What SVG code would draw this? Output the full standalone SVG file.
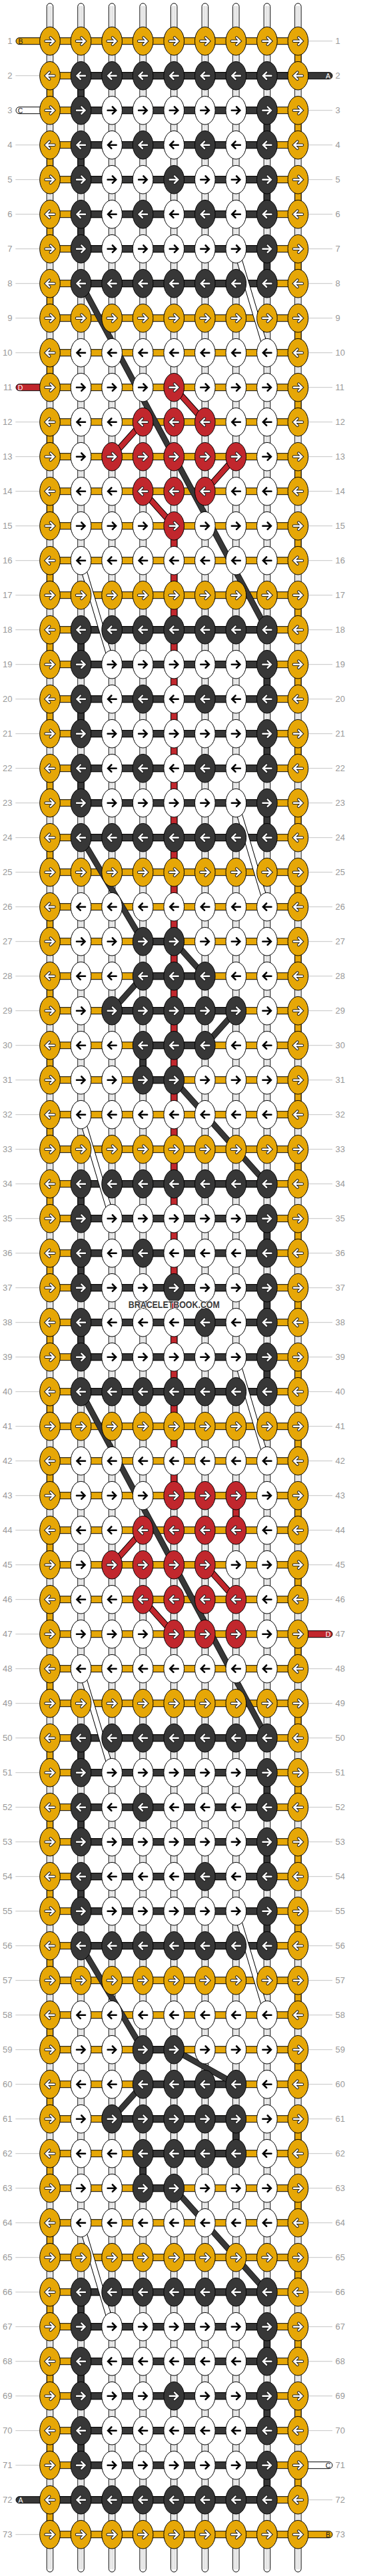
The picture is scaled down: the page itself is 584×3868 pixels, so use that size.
<svg xmlns="http://www.w3.org/2000/svg" xmlns:xlink="http://www.w3.org/1999/xlink" width="584" height="3868" viewBox="0 0 584 3868">
<style>
.g{stroke:#c4c4c4;stroke-width:1;fill:none}
text{font-family:"Liberation Sans",Arial,sans-serif}
.L{font-size:13px;fill:#999;text-anchor:end}
.R{font-size:13px;fill:#999}
.y{fill:#E6A707}.k{fill:#373737}.w{fill:#fff}.r{fill:#C1272D}
.s{stroke:#000;stroke-width:1}
.o{fill:none;stroke:#1e1e1e;stroke-width:4.4;stroke-linecap:round}
.wa{fill:none;stroke:#fff;stroke-width:2.4;stroke-linecap:round}
.ba{fill:none;stroke:#000;stroke-width:2.6;stroke-linecap:round}
.tl{stroke:#9a9a9a;stroke-width:0.7;fill:none}
.sl{font-size:10.5px;text-anchor:middle}
</style>
<defs>
<ellipse id="e" rx="15.3" ry="21.3" stroke="#000" stroke-width="1"/>
<path id="ar" d="M-6.5,0H5.5M0.8,-5.2L6,0L0.8,5.2"/>
<path id="al" d="M6.5,0H-5.5M-0.8,-5.2L-6,0L-0.8,5.2"/>
<g id="Yr"><use href="#e" class="y"/><use href="#ar" class="o"/><use href="#ar" class="wa"/></g>
<g id="Yl"><use href="#e" class="y"/><use href="#al" class="o"/><use href="#al" class="wa"/></g>
<g id="Kr"><use href="#e" class="k"/><use href="#ar" class="o"/><use href="#ar" class="wa"/></g>
<g id="Kl"><use href="#e" class="k"/><use href="#al" class="o"/><use href="#al" class="wa"/></g>
<g id="Rr"><use href="#e" class="r"/><use href="#ar" class="o"/><use href="#ar" class="wa"/></g>
<g id="Rl"><use href="#e" class="r"/><use href="#al" class="o"/><use href="#al" class="wa"/></g>
<g id="Wr"><use href="#e" class="w"/><use href="#ar" class="ba"/></g>
<g id="Wl"><use href="#e" class="w"/><use href="#al" class="ba"/></g>
</defs>
<rect width="584" height="3868" fill="#fff"/>
<g id="connectors">
<g id="tubes" class="w s">
<rect x="70.3" y="5" width="9.4" height="3857" rx="4.7"/>
<rect x="116.8" y="5" width="9.4" height="3857" rx="4.7"/>
<rect x="163.4" y="5" width="9.4" height="3857" rx="4.7"/>
<rect x="209.9" y="5" width="9.4" height="3857" rx="4.7"/>
<rect x="256.5" y="5" width="9.4" height="3857" rx="4.7"/>
<rect x="303.1" y="5" width="9.4" height="3857" rx="4.7"/>
<rect x="349.6" y="5" width="9.4" height="3857" rx="4.7"/>
<rect x="396.2" y="5" width="9.4" height="3857" rx="4.7"/>
<rect x="442.7" y="5" width="9.4" height="3857" rx="4.7"/>
</g>
<path class="tl" d="M73.5,9V3858M76.5,9V3858M120,9V3858M123,9V3858M166.6,9V3858M169.6,9V3858M213.1,9V3858M216.1,9V3858M259.7,9V3858M262.7,9V3858M306.3,9V3858M309.3,9V3858M352.8,9V3858M355.8,9V3858M399.4,9V3858M402.4,9V3858M445.9,9V3858M448.9,9V3858"/>
<g id="vertical" class="s">
<path class="y" d="M70.3,131.7h9.4v16h-9.4zm0,104h9.4v16h-9.4zm0,104h9.4v16h-9.4zm0,104h9.4v16h-9.4zm0,104h9.4v16h-9.4zm0,104h9.4v16h-9.4zm0,104h9.4v16h-9.4zm0,104h9.4v16h-9.4z
m0,104h9.4v16h-9.4zm0,104h9.4v16h-9.4zm0,104h9.4v16h-9.4zm0,104h9.4v16h-9.4zm0,104h9.4v16h-9.4zm0,104h9.4v16h-9.4zm0,104h9.4v16h-9.4z
m0,104h9.4v16h-9.4zm0,104h9.4v16h-9.4zm0,104h9.4v16h-9.4zm0,104h9.4v16h-9.4zm0,104h9.4v16h-9.4zm0,104h9.4v16h-9.4zm0,104h9.4v16h-9.4z
m0,104h9.4v16h-9.4zm0,104h9.4v16h-9.4zm0,104h9.4v16h-9.4zm0,104h9.4v16h-9.4zm0,104h9.4v16h-9.4zm0,104h9.4v16h-9.4zm0,104h9.4v16h-9.4z
m0,104h9.4v16h-9.4zm0,104h9.4v16h-9.4zm0,104h9.4v16h-9.4zm0,104h9.4v16h-9.4zm0,104h9.4v16h-9.4zm0,104h9.4v16h-9.4zm0,104h9.4v16h-9.4z"/>
<path class="y" d="M442.7,79.7h9.4v16h-9.4zm0,104h9.4v16h-9.4zm0,104h9.4v16h-9.4zm0,104h9.4v16h-9.4zm0,104h9.4v16h-9.4zm0,104h9.4v16h-9.4zm0,104h9.4v16h-9.4zm0,104h9.4v16h-9.4z
m0,104h9.4v16h-9.4zm0,104h9.4v16h-9.4zm0,104h9.4v16h-9.4zm0,104h9.4v16h-9.4zm0,104h9.4v16h-9.4zm0,104h9.4v16h-9.4zm0,104h9.4v16h-9.4z
m0,104h9.4v16h-9.4zm0,104h9.4v16h-9.4zm0,104h9.4v16h-9.4zm0,104h9.4v16h-9.4zm0,104h9.4v16h-9.4zm0,104h9.4v16h-9.4zm0,104h9.4v16h-9.4z
m0,104h9.4v16h-9.4zm0,104h9.4v16h-9.4zm0,104h9.4v16h-9.4zm0,104h9.4v16h-9.4zm0,104h9.4v16h-9.4zm0,104h9.4v16h-9.4zm0,104h9.4v16h-9.4z
m0,104h9.4v16h-9.4zm0,104h9.4v16h-9.4zm0,104h9.4v16h-9.4zm0,104h9.4v16h-9.4zm0,104h9.4v16h-9.4zm0,104h9.4v16h-9.4zm0,104h9.4v16h-9.4z"/>
<path class="k" d="M116.8,131.7h9.4v16h-9.4zm0,104h9.4v16h-9.4zm0,104h9.4v16h-9.4z
M116.8,963.7h9.4v16h-9.4zm0,104h9.4v16h-9.4zm0,104h9.4v16h-9.4z
M116.8,1795.7h9.4v16h-9.4zm0,104h9.4v16h-9.4zm0,104h9.4v16h-9.4z
M116.8,2627.7h9.4v16h-9.4zm0,104h9.4v16h-9.4zm0,104h9.4v16h-9.4z
M116.8,3459.7h9.4v16h-9.4zm0,104h9.4v16h-9.4zm0,104h9.4v16h-9.4z
M396.2,183.7h9.4v16h-9.4zm0,104h9.4v16h-9.4zm0,104h9.4v16h-9.4z
M396.2,1015.7h9.4v16h-9.4zm0,104h9.4v16h-9.4zm0,104h9.4v16h-9.4z
M396.2,1847.7h9.4v16h-9.4zm0,104h9.4v16h-9.4zm0,104h9.4v16h-9.4z
M396.2,2679.7h9.4v16h-9.4zm0,104h9.4v16h-9.4zm0,104h9.4v16h-9.4z
M396.2,3511.7h9.4v16h-9.4zm0,104h9.4v16h-9.4zm0,104h9.4v16h-9.4z
M209.9,1587.7h9.4v16h-9.4zM209.9,3251.7h9.4v16h-9.4zM349.6,3199.7h9.4v16h-9.4z"/>
<rect class="r" x="256.5" y="807.7" width="9.4" height="1420"/>
<path class="r" d="M349.6,2263.7h9.4v16h-9.4z"/>
</g>
<g id="horizontal" class="s">
<path class="y" d="M75,56.7h372.4v10h-372.4z
m0,52h372.4v10h-372.4zm0,52h372.4v10h-372.4zm0,52h372.4v10h-372.4zm0,52h372.4v10h-372.4zm0,52h372.4v10h-372.4zm0,52h372.4v10h-372.4zm0,52h372.4v10h-372.4zm0,52h372.4v10h-372.4z
m0,52h372.4v10h-372.4zm0,52h372.4v10h-372.4zm0,52h372.4v10h-372.4zm0,52h372.4v10h-372.4zm0,52h372.4v10h-372.4zm0,52h372.4v10h-372.4zm0,52h372.4v10h-372.4zm0,52h372.4v10h-372.4z
m0,52h372.4v10h-372.4zm0,52h372.4v10h-372.4zm0,52h372.4v10h-372.4zm0,52h372.4v10h-372.4zm0,52h372.4v10h-372.4zm0,52h372.4v10h-372.4zm0,52h372.4v10h-372.4zm0,52h372.4v10h-372.4z
m0,52h372.4v10h-372.4zm0,52h372.4v10h-372.4zm0,52h372.4v10h-372.4zm0,52h372.4v10h-372.4zm0,52h372.4v10h-372.4zm0,52h372.4v10h-372.4zm0,52h372.4v10h-372.4zm0,52h372.4v10h-372.4z
m0,52h372.4v10h-372.4zm0,52h372.4v10h-372.4zm0,52h372.4v10h-372.4zm0,52h372.4v10h-372.4zm0,52h372.4v10h-372.4zm0,52h372.4v10h-372.4zm0,52h372.4v10h-372.4zm0,52h372.4v10h-372.4z
m0,52h372.4v10h-372.4zm0,52h372.4v10h-372.4zm0,52h372.4v10h-372.4zm0,52h372.4v10h-372.4zm0,52h372.4v10h-372.4zm0,52h372.4v10h-372.4zm0,52h372.4v10h-372.4zm0,52h372.4v10h-372.4z
m0,52h372.4v10h-372.4zm0,52h372.4v10h-372.4zm0,52h372.4v10h-372.4zm0,52h372.4v10h-372.4zm0,52h372.4v10h-372.4zm0,52h372.4v10h-372.4zm0,52h372.4v10h-372.4zm0,52h372.4v10h-372.4z
m0,52h372.4v10h-372.4zm0,52h372.4v10h-372.4zm0,52h372.4v10h-372.4zm0,52h372.4v10h-372.4zm0,52h372.4v10h-372.4zm0,52h372.4v10h-372.4zm0,52h372.4v10h-372.4zm0,52h372.4v10h-372.4z
m0,52h372.4v10h-372.4zm0,52h372.4v10h-372.4zm0,52h372.4v10h-372.4zm0,52h372.4v10h-372.4zm0,52h372.4v10h-372.4zm0,52h372.4v10h-372.4zm0,52h372.4v10h-372.4zm0,52h372.4v10h-372.4z"/>
<path class="k" d="M121.5,108.7h325.9v10h-325.9z
M121.5,160.7h279.4v10h-279.4zm0,52h279.4v10h-279.4zm0,52h279.4v10h-279.4zm0,52h279.4v10h-279.4zm0,52h279.4v10h-279.4zm0,52h279.4v10h-279.4z
M121.5,940.7h279.4v10h-279.4zm0,52h279.4v10h-279.4zm0,52h279.4v10h-279.4zm0,52h279.4v10h-279.4zm0,52h279.4v10h-279.4zm0,52h279.4v10h-279.4zm0,52h279.4v10h-279.4z
M121.5,1772.7h279.4v10h-279.4zm0,52h279.4v10h-279.4zm0,52h279.4v10h-279.4zm0,52h279.4v10h-279.4zm0,52h279.4v10h-279.4zm0,52h279.4v10h-279.4zm0,52h279.4v10h-279.4z
M121.5,2604.7h279.4v10h-279.4zm0,52h279.4v10h-279.4zm0,52h279.4v10h-279.4zm0,52h279.4v10h-279.4zm0,52h279.4v10h-279.4zm0,52h279.4v10h-279.4zm0,52h279.4v10h-279.4z
M121.5,3436.7h279.4v10h-279.4zm0,52h279.4v10h-279.4zm0,52h279.4v10h-279.4zm0,52h279.4v10h-279.4zm0,52h279.4v10h-279.4zm0,52h279.4v10h-279.4z
M75,3748.7h325.9v10h-325.9z
M214.6,1408.7h46.6v10h-46.6zM214.6,1460.7h93.2v10h-93.2zM168.1,1512.7h186.2v10h-186.2zM214.6,1564.7h93.2v10h-93.2zM214.6,1616.7h46.6v10h-46.6z
M214.6,3072.7h46.6v10h-46.6zM214.6,3124.7h139.7v10h-139.7zM168.1,3176.7h186.2v10h-186.2zM214.6,3228.7h139.7v10h-139.7zM214.6,3280.7h46.6v10h-46.6z"/>
</g>
<g id="diagonals" fill="none">
<path stroke="#000" stroke-width="9" d="M354.3,373.7L400.9,529.7M121.5,841.7L168.1,997.7M354.3,1205.7L400.9,1361.7M121.5,1673.7L168.1,1829.7M354.3,2037.7L400.9,2193.7M121.5,2505.7L168.1,2661.7M354.3,2869.7L400.9,3025.7M121.5,3337.7L168.1,3493.7"/>
<path stroke="#fff" stroke-width="7" d="M354.3,373.7L400.9,529.7M121.5,841.7L168.1,997.7M354.3,1205.7L400.9,1361.7M121.5,1673.7L168.1,1829.7M354.3,2037.7L400.9,2193.7M121.5,2505.7L168.1,2661.7M354.3,2869.7L400.9,3025.7M121.5,3337.7L168.1,3493.7"/>
<path stroke="#111" stroke-width="9" d="M121.5,425.7L400.9,945.7M121.5,1257.7L214.6,1413.7M261.2,1413.7L307.8,1465.7M214.6,1465.7L168.1,1517.7M354.3,1517.7L307.8,1569.7M261.2,1621.7L400.9,1777.7M121.5,2089.7L400.9,2609.7M121.5,2921.7L214.6,3077.7M261.2,3077.7L354.3,3129.7M214.6,3129.7L168.1,3181.7M261.2,3285.7L400.9,3441.7"/>
<path stroke="#373737" stroke-width="7.4" d="M121.5,425.7L400.9,945.7M121.5,1257.7L214.6,1413.7M261.2,1413.7L307.8,1465.7M214.6,1465.7L168.1,1517.7M354.3,1517.7L307.8,1569.7M261.2,1621.7L400.9,1777.7M121.5,2089.7L400.9,2609.7M121.5,2921.7L214.6,3077.7M261.2,3077.7L354.3,3129.7M214.6,3129.7L168.1,3181.7M261.2,3285.7L400.9,3441.7"/>
<path stroke="#000" stroke-width="9.4" d="M261.2,581.7L307.8,633.7M214.6,633.7L168.1,685.7M354.3,685.7L307.8,737.7M214.6,737.7L261.2,789.7M214.6,2297.7L168.1,2349.7M307.8,2349.7L354.3,2401.7M214.6,2401.7L261.2,2453.7"/>
<path stroke="#C1272D" stroke-width="7.4" d="M261.2,581.7L307.8,633.7M214.6,633.7L168.1,685.7M354.3,685.7L307.8,737.7M214.6,737.7L261.2,789.7M214.6,2297.7L168.1,2349.7M307.8,2349.7L354.3,2401.7M214.6,2401.7L261.2,2453.7"/>
</g>
<g id="ends" class="s">
<rect class="y" x="24" y="56.7" width="60" height="10" rx="5"/>
<rect class="k" x="440" y="108.7" width="59" height="10" rx="5"/>
<rect class="w" x="24" y="160.7" width="60" height="10" rx="5"/>
<rect class="r" x="24" y="576.7" width="60" height="10" rx="5"/>
<rect class="r" x="440" y="2448.7" width="59" height="10" rx="5"/>
<rect class="w" x="440" y="3696.7" width="59" height="10" rx="5"/>
<rect class="k" x="24" y="3748.7" width="60" height="10" rx="5"/>
<rect class="y" x="440" y="3800.7" width="59" height="10" rx="5"/>
</g>
<g id="endlabels" class="sl">
<text x="31" y="65.5" fill="#222">B</text>
<text x="492.5" y="117.5" fill="#fff">A</text>
<text x="30.5" y="169.5" fill="#222">C</text>
<text x="30.5" y="585.5" fill="#fff">D</text>
<text x="492.5" y="2457.5" fill="#fff">D</text>
<text x="492.5" y="3705.5" fill="#222">C</text>
<text x="31" y="3757.5" fill="#fff">A</text>
<text x="492.5" y="3809.5" fill="#222">B</text>
</g>
</g>
<g id="knots">
<g id="row1" transform="translate(0,61.7)"><path class="g" d="M463,0H499"/><text class="L" x="18.5" y="4.5">1</text><text class="R" x="503.5" y="4.5">1</text><use id="k1-1" href="#Yr" x="75"/><use id="k1-2" href="#Yr" x="121.5"/><use id="k1-3" href="#Yr" x="168.1"/><use id="k1-4" href="#Yr" x="214.6"/><use id="k1-5" href="#Yr" x="261.2"/><use id="k1-6" href="#Yr" x="307.8"/><use id="k1-7" href="#Yr" x="354.3"/><use id="k1-8" href="#Yr" x="400.9"/><use id="k1-9" href="#Yr" x="447.4"/></g>
<g id="row2" transform="translate(0,113.7)"><path class="g" d="M23.3,0H60"/><text class="L" x="18.5" y="4.5">2</text><text class="R" x="503.5" y="4.5">2</text><use id="k2-1" href="#Yl" x="75"/><use id="k2-2" href="#Kl" x="121.5"/><use id="k2-3" href="#Kl" x="168.1"/><use id="k2-4" href="#Kl" x="214.6"/><use id="k2-5" href="#Kl" x="261.2"/><use id="k2-6" href="#Kl" x="307.8"/><use id="k2-7" href="#Kl" x="354.3"/><use id="k2-8" href="#Kl" x="400.9"/><use id="k2-9" href="#Yl" x="447.4"/></g>
<g id="row3" transform="translate(0,165.7)"><path class="g" d="M463,0H499"/><text class="L" x="18.5" y="4.5">3</text><text class="R" x="503.5" y="4.5">3</text><use id="k3-1" href="#Yr" x="75"/><use id="k3-2" href="#Kr" x="121.5"/><use id="k3-3" href="#Wr" x="168.1"/><use id="k3-4" href="#Wr" x="214.6"/><use id="k3-5" href="#Wr" x="261.2"/><use id="k3-6" href="#Wr" x="307.8"/><use id="k3-7" href="#Wr" x="354.3"/><use id="k3-8" href="#Kr" x="400.9"/><use id="k3-9" href="#Yr" x="447.4"/></g>
<g id="row4" transform="translate(0,217.7)"><path class="g" d="M23.3,0H60M463,0H499"/><text class="L" x="18.5" y="4.5">4</text><text class="R" x="503.5" y="4.5">4</text><use id="k4-1" href="#Yl" x="75"/><use id="k4-2" href="#Kl" x="121.5"/><use id="k4-3" href="#Wl" x="168.1"/><use id="k4-4" href="#Kl" x="214.6"/><use id="k4-5" href="#Wl" x="261.2"/><use id="k4-6" href="#Kl" x="307.8"/><use id="k4-7" href="#Wl" x="354.3"/><use id="k4-8" href="#Kl" x="400.9"/><use id="k4-9" href="#Yl" x="447.4"/></g>
<g id="row5" transform="translate(0,269.7)"><path class="g" d="M23.3,0H60M463,0H499"/><text class="L" x="18.5" y="4.5">5</text><text class="R" x="503.5" y="4.5">5</text><use id="k5-1" href="#Yr" x="75"/><use id="k5-2" href="#Kr" x="121.5"/><use id="k5-3" href="#Wr" x="168.1"/><use id="k5-4" href="#Wr" x="214.6"/><use id="k5-5" href="#Kr" x="261.2"/><use id="k5-6" href="#Wr" x="307.8"/><use id="k5-7" href="#Wr" x="354.3"/><use id="k5-8" href="#Kr" x="400.9"/><use id="k5-9" href="#Yr" x="447.4"/></g>
<g id="row6" transform="translate(0,321.7)"><path class="g" d="M23.3,0H60M463,0H499"/><text class="L" x="18.5" y="4.5">6</text><text class="R" x="503.5" y="4.5">6</text><use id="k6-1" href="#Yl" x="75"/><use id="k6-2" href="#Kl" x="121.5"/><use id="k6-3" href="#Wl" x="168.1"/><use id="k6-4" href="#Kl" x="214.6"/><use id="k6-5" href="#Wl" x="261.2"/><use id="k6-6" href="#Kl" x="307.8"/><use id="k6-7" href="#Wl" x="354.3"/><use id="k6-8" href="#Kl" x="400.9"/><use id="k6-9" href="#Yl" x="447.4"/></g>
<g id="row7" transform="translate(0,373.7)"><path class="g" d="M23.3,0H60M463,0H499"/><text class="L" x="18.5" y="4.5">7</text><text class="R" x="503.5" y="4.5">7</text><use id="k7-1" href="#Yr" x="75"/><use id="k7-2" href="#Kr" x="121.5"/><use id="k7-3" href="#Wr" x="168.1"/><use id="k7-4" href="#Wr" x="214.6"/><use id="k7-5" href="#Wr" x="261.2"/><use id="k7-6" href="#Wr" x="307.8"/><use id="k7-7" href="#Wr" x="354.3"/><use id="k7-8" href="#Kr" x="400.9"/><use id="k7-9" href="#Yr" x="447.4"/></g>
<g id="row8" transform="translate(0,425.7)"><path class="g" d="M23.3,0H60M463,0H499"/><text class="L" x="18.5" y="4.5">8</text><text class="R" x="503.5" y="4.5">8</text><use id="k8-1" href="#Yl" x="75"/><use id="k8-2" href="#Kl" x="121.5"/><use id="k8-3" href="#Kl" x="168.1"/><use id="k8-4" href="#Kl" x="214.6"/><use id="k8-5" href="#Kl" x="261.2"/><use id="k8-6" href="#Kl" x="307.8"/><use id="k8-7" href="#Kl" x="354.3"/><use id="k8-8" href="#Kl" x="400.9"/><use id="k8-9" href="#Yl" x="447.4"/></g>
<g id="row9" transform="translate(0,477.7)"><path class="g" d="M23.3,0H60M463,0H499"/><text class="L" x="18.5" y="4.5">9</text><text class="R" x="503.5" y="4.5">9</text><use id="k9-1" href="#Yr" x="75"/><use id="k9-2" href="#Yr" x="121.5"/><use id="k9-3" href="#Yr" x="168.1"/><use id="k9-4" href="#Yr" x="214.6"/><use id="k9-5" href="#Yr" x="261.2"/><use id="k9-6" href="#Yr" x="307.8"/><use id="k9-7" href="#Yr" x="354.3"/><use id="k9-8" href="#Yr" x="400.9"/><use id="k9-9" href="#Yr" x="447.4"/></g>
<g id="row10" transform="translate(0,529.7)"><path class="g" d="M23.3,0H60M463,0H499"/><text class="L" x="18.5" y="4.5">10</text><text class="R" x="503.5" y="4.5">10</text><use id="k10-1" href="#Yl" x="75"/><use id="k10-2" href="#Wl" x="121.5"/><use id="k10-3" href="#Wl" x="168.1"/><use id="k10-4" href="#Wl" x="214.6"/><use id="k10-5" href="#Wl" x="261.2"/><use id="k10-6" href="#Wl" x="307.8"/><use id="k10-7" href="#Wl" x="354.3"/><use id="k10-8" href="#Wl" x="400.9"/><use id="k10-9" href="#Yl" x="447.4"/></g>
<g id="row11" transform="translate(0,581.7)"><path class="g" d="M463,0H499"/><text class="L" x="18.5" y="4.5">11</text><text class="R" x="503.5" y="4.5">11</text><use id="k11-1" href="#Yr" x="75"/><use id="k11-2" href="#Wr" x="121.5"/><use id="k11-3" href="#Wr" x="168.1"/><use id="k11-4" href="#Wr" x="214.6"/><use id="k11-5" href="#Rr" x="261.2"/><use id="k11-6" href="#Wr" x="307.8"/><use id="k11-7" href="#Wr" x="354.3"/><use id="k11-8" href="#Wr" x="400.9"/><use id="k11-9" href="#Yr" x="447.4"/></g>
<g id="row12" transform="translate(0,633.7)"><path class="g" d="M23.3,0H60M463,0H499"/><text class="L" x="18.5" y="4.5">12</text><text class="R" x="503.5" y="4.5">12</text><use id="k12-1" href="#Yl" x="75"/><use id="k12-2" href="#Wl" x="121.5"/><use id="k12-3" href="#Wl" x="168.1"/><use id="k12-4" href="#Rl" x="214.6"/><use id="k12-5" href="#Rl" x="261.2"/><use id="k12-6" href="#Rl" x="307.8"/><use id="k12-7" href="#Wl" x="354.3"/><use id="k12-8" href="#Wl" x="400.9"/><use id="k12-9" href="#Yl" x="447.4"/></g>
<g id="row13" transform="translate(0,685.7)"><path class="g" d="M23.3,0H60M463,0H499"/><text class="L" x="18.5" y="4.5">13</text><text class="R" x="503.5" y="4.5">13</text><use id="k13-1" href="#Yr" x="75"/><use id="k13-2" href="#Wr" x="121.5"/><use id="k13-3" href="#Rr" x="168.1"/><use id="k13-4" href="#Rr" x="214.6"/><use id="k13-5" href="#Rr" x="261.2"/><use id="k13-6" href="#Rr" x="307.8"/><use id="k13-7" href="#Rr" x="354.3"/><use id="k13-8" href="#Wr" x="400.9"/><use id="k13-9" href="#Yr" x="447.4"/></g>
<g id="row14" transform="translate(0,737.7)"><path class="g" d="M23.3,0H60M463,0H499"/><text class="L" x="18.5" y="4.5">14</text><text class="R" x="503.5" y="4.5">14</text><use id="k14-1" href="#Yl" x="75"/><use id="k14-2" href="#Wl" x="121.5"/><use id="k14-3" href="#Wl" x="168.1"/><use id="k14-4" href="#Rl" x="214.6"/><use id="k14-5" href="#Rl" x="261.2"/><use id="k14-6" href="#Rl" x="307.8"/><use id="k14-7" href="#Wl" x="354.3"/><use id="k14-8" href="#Wl" x="400.9"/><use id="k14-9" href="#Yl" x="447.4"/></g>
<g id="row15" transform="translate(0,789.7)"><path class="g" d="M23.3,0H60M463,0H499"/><text class="L" x="18.5" y="4.5">15</text><text class="R" x="503.5" y="4.5">15</text><use id="k15-1" href="#Yr" x="75"/><use id="k15-2" href="#Wr" x="121.5"/><use id="k15-3" href="#Wr" x="168.1"/><use id="k15-4" href="#Wr" x="214.6"/><use id="k15-5" href="#Rr" x="261.2"/><use id="k15-6" href="#Wr" x="307.8"/><use id="k15-7" href="#Wr" x="354.3"/><use id="k15-8" href="#Wr" x="400.9"/><use id="k15-9" href="#Yr" x="447.4"/></g>
<g id="row16" transform="translate(0,841.7)"><path class="g" d="M23.3,0H60M463,0H499"/><text class="L" x="18.5" y="4.5">16</text><text class="R" x="503.5" y="4.5">16</text><use id="k16-1" href="#Yl" x="75"/><use id="k16-2" href="#Wl" x="121.5"/><use id="k16-3" href="#Wl" x="168.1"/><use id="k16-4" href="#Wl" x="214.6"/><use id="k16-5" href="#Wl" x="261.2"/><use id="k16-6" href="#Wl" x="307.8"/><use id="k16-7" href="#Wl" x="354.3"/><use id="k16-8" href="#Wl" x="400.9"/><use id="k16-9" href="#Yl" x="447.4"/></g>
<g id="row17" transform="translate(0,893.7)"><path class="g" d="M23.3,0H60M463,0H499"/><text class="L" x="18.5" y="4.5">17</text><text class="R" x="503.5" y="4.5">17</text><use id="k17-1" href="#Yr" x="75"/><use id="k17-2" href="#Yr" x="121.5"/><use id="k17-3" href="#Yr" x="168.1"/><use id="k17-4" href="#Yr" x="214.6"/><use id="k17-5" href="#Yr" x="261.2"/><use id="k17-6" href="#Yr" x="307.8"/><use id="k17-7" href="#Yr" x="354.3"/><use id="k17-8" href="#Yr" x="400.9"/><use id="k17-9" href="#Yr" x="447.4"/></g>
<g id="row18" transform="translate(0,945.7)"><path class="g" d="M23.3,0H60M463,0H499"/><text class="L" x="18.5" y="4.5">18</text><text class="R" x="503.5" y="4.5">18</text><use id="k18-1" href="#Yl" x="75"/><use id="k18-2" href="#Kl" x="121.5"/><use id="k18-3" href="#Kl" x="168.1"/><use id="k18-4" href="#Kl" x="214.6"/><use id="k18-5" href="#Kl" x="261.2"/><use id="k18-6" href="#Kl" x="307.8"/><use id="k18-7" href="#Kl" x="354.3"/><use id="k18-8" href="#Kl" x="400.9"/><use id="k18-9" href="#Yl" x="447.4"/></g>
<g id="row19" transform="translate(0,997.7)"><path class="g" d="M23.3,0H60M463,0H499"/><text class="L" x="18.5" y="4.5">19</text><text class="R" x="503.5" y="4.5">19</text><use id="k19-1" href="#Yr" x="75"/><use id="k19-2" href="#Kr" x="121.5"/><use id="k19-3" href="#Wr" x="168.1"/><use id="k19-4" href="#Wr" x="214.6"/><use id="k19-5" href="#Wr" x="261.2"/><use id="k19-6" href="#Wr" x="307.8"/><use id="k19-7" href="#Wr" x="354.3"/><use id="k19-8" href="#Kr" x="400.9"/><use id="k19-9" href="#Yr" x="447.4"/></g>
<g id="row20" transform="translate(0,1049.7)"><path class="g" d="M23.3,0H60M463,0H499"/><text class="L" x="18.5" y="4.5">20</text><text class="R" x="503.5" y="4.5">20</text><use id="k20-1" href="#Yl" x="75"/><use id="k20-2" href="#Kl" x="121.5"/><use id="k20-3" href="#Wl" x="168.1"/><use id="k20-4" href="#Kl" x="214.6"/><use id="k20-5" href="#Wl" x="261.2"/><use id="k20-6" href="#Kl" x="307.8"/><use id="k20-7" href="#Wl" x="354.3"/><use id="k20-8" href="#Kl" x="400.9"/><use id="k20-9" href="#Yl" x="447.4"/></g>
<g id="row21" transform="translate(0,1101.7)"><path class="g" d="M23.3,0H60M463,0H499"/><text class="L" x="18.5" y="4.5">21</text><text class="R" x="503.5" y="4.5">21</text><use id="k21-1" href="#Yr" x="75"/><use id="k21-2" href="#Kr" x="121.5"/><use id="k21-3" href="#Wr" x="168.1"/><use id="k21-4" href="#Wr" x="214.6"/><use id="k21-5" href="#Wr" x="261.2"/><use id="k21-6" href="#Wr" x="307.8"/><use id="k21-7" href="#Wr" x="354.3"/><use id="k21-8" href="#Kr" x="400.9"/><use id="k21-9" href="#Yr" x="447.4"/></g>
<g id="row22" transform="translate(0,1153.7)"><path class="g" d="M23.3,0H60M463,0H499"/><text class="L" x="18.5" y="4.5">22</text><text class="R" x="503.5" y="4.5">22</text><use id="k22-1" href="#Yl" x="75"/><use id="k22-2" href="#Kl" x="121.5"/><use id="k22-3" href="#Wl" x="168.1"/><use id="k22-4" href="#Kl" x="214.6"/><use id="k22-5" href="#Wl" x="261.2"/><use id="k22-6" href="#Kl" x="307.8"/><use id="k22-7" href="#Wl" x="354.3"/><use id="k22-8" href="#Kl" x="400.9"/><use id="k22-9" href="#Yl" x="447.4"/></g>
<g id="row23" transform="translate(0,1205.7)"><path class="g" d="M23.3,0H60M463,0H499"/><text class="L" x="18.5" y="4.5">23</text><text class="R" x="503.5" y="4.5">23</text><use id="k23-1" href="#Yr" x="75"/><use id="k23-2" href="#Kr" x="121.5"/><use id="k23-3" href="#Wr" x="168.1"/><use id="k23-4" href="#Wr" x="214.6"/><use id="k23-5" href="#Wr" x="261.2"/><use id="k23-6" href="#Wr" x="307.8"/><use id="k23-7" href="#Wr" x="354.3"/><use id="k23-8" href="#Kr" x="400.9"/><use id="k23-9" href="#Yr" x="447.4"/></g>
<g id="row24" transform="translate(0,1257.7)"><path class="g" d="M23.3,0H60M463,0H499"/><text class="L" x="18.5" y="4.5">24</text><text class="R" x="503.5" y="4.5">24</text><use id="k24-1" href="#Yl" x="75"/><use id="k24-2" href="#Kl" x="121.5"/><use id="k24-3" href="#Kl" x="168.1"/><use id="k24-4" href="#Kl" x="214.6"/><use id="k24-5" href="#Kl" x="261.2"/><use id="k24-6" href="#Kl" x="307.8"/><use id="k24-7" href="#Kl" x="354.3"/><use id="k24-8" href="#Kl" x="400.9"/><use id="k24-9" href="#Yl" x="447.4"/></g>
<g id="row25" transform="translate(0,1309.7)"><path class="g" d="M23.3,0H60M463,0H499"/><text class="L" x="18.5" y="4.5">25</text><text class="R" x="503.5" y="4.5">25</text><use id="k25-1" href="#Yr" x="75"/><use id="k25-2" href="#Yr" x="121.5"/><use id="k25-3" href="#Yr" x="168.1"/><use id="k25-4" href="#Yr" x="214.6"/><use id="k25-5" href="#Yr" x="261.2"/><use id="k25-6" href="#Yr" x="307.8"/><use id="k25-7" href="#Yr" x="354.3"/><use id="k25-8" href="#Yr" x="400.9"/><use id="k25-9" href="#Yr" x="447.4"/></g>
<g id="row26" transform="translate(0,1361.7)"><path class="g" d="M23.3,0H60M463,0H499"/><text class="L" x="18.5" y="4.5">26</text><text class="R" x="503.5" y="4.5">26</text><use id="k26-1" href="#Yl" x="75"/><use id="k26-2" href="#Wl" x="121.5"/><use id="k26-3" href="#Wl" x="168.1"/><use id="k26-4" href="#Wl" x="214.6"/><use id="k26-5" href="#Wl" x="261.2"/><use id="k26-6" href="#Wl" x="307.8"/><use id="k26-7" href="#Wl" x="354.3"/><use id="k26-8" href="#Wl" x="400.9"/><use id="k26-9" href="#Yl" x="447.4"/></g>
<g id="row27" transform="translate(0,1413.7)"><path class="g" d="M23.3,0H60M463,0H499"/><text class="L" x="18.5" y="4.5">27</text><text class="R" x="503.5" y="4.5">27</text><use id="k27-1" href="#Yr" x="75"/><use id="k27-2" href="#Wr" x="121.5"/><use id="k27-3" href="#Wr" x="168.1"/><use id="k27-4" href="#Kr" x="214.6"/><use id="k27-5" href="#Kr" x="261.2"/><use id="k27-6" href="#Wr" x="307.8"/><use id="k27-7" href="#Wr" x="354.3"/><use id="k27-8" href="#Wr" x="400.9"/><use id="k27-9" href="#Yr" x="447.4"/></g>
<g id="row28" transform="translate(0,1465.7)"><path class="g" d="M23.3,0H60M463,0H499"/><text class="L" x="18.5" y="4.5">28</text><text class="R" x="503.5" y="4.5">28</text><use id="k28-1" href="#Yl" x="75"/><use id="k28-2" href="#Wl" x="121.5"/><use id="k28-3" href="#Wl" x="168.1"/><use id="k28-4" href="#Kl" x="214.6"/><use id="k28-5" href="#Kl" x="261.2"/><use id="k28-6" href="#Kl" x="307.8"/><use id="k28-7" href="#Wl" x="354.3"/><use id="k28-8" href="#Wl" x="400.9"/><use id="k28-9" href="#Yl" x="447.4"/></g>
<g id="row29" transform="translate(0,1517.7)"><path class="g" d="M23.3,0H60M463,0H499"/><text class="L" x="18.5" y="4.5">29</text><text class="R" x="503.5" y="4.5">29</text><use id="k29-1" href="#Yr" x="75"/><use id="k29-2" href="#Wr" x="121.5"/><use id="k29-3" href="#Kr" x="168.1"/><use id="k29-4" href="#Kr" x="214.6"/><use id="k29-5" href="#Kr" x="261.2"/><use id="k29-6" href="#Kr" x="307.8"/><use id="k29-7" href="#Kr" x="354.3"/><use id="k29-8" href="#Wr" x="400.9"/><use id="k29-9" href="#Yr" x="447.4"/></g>
<g id="row30" transform="translate(0,1569.7)"><path class="g" d="M23.3,0H60M463,0H499"/><text class="L" x="18.5" y="4.5">30</text><text class="R" x="503.5" y="4.5">30</text><use id="k30-1" href="#Yl" x="75"/><use id="k30-2" href="#Wl" x="121.5"/><use id="k30-3" href="#Wl" x="168.1"/><use id="k30-4" href="#Kl" x="214.6"/><use id="k30-5" href="#Kl" x="261.2"/><use id="k30-6" href="#Kl" x="307.8"/><use id="k30-7" href="#Wl" x="354.3"/><use id="k30-8" href="#Wl" x="400.9"/><use id="k30-9" href="#Yl" x="447.4"/></g>
<g id="row31" transform="translate(0,1621.7)"><path class="g" d="M23.3,0H60M463,0H499"/><text class="L" x="18.5" y="4.5">31</text><text class="R" x="503.5" y="4.5">31</text><use id="k31-1" href="#Yr" x="75"/><use id="k31-2" href="#Wr" x="121.5"/><use id="k31-3" href="#Wr" x="168.1"/><use id="k31-4" href="#Kr" x="214.6"/><use id="k31-5" href="#Kr" x="261.2"/><use id="k31-6" href="#Wr" x="307.8"/><use id="k31-7" href="#Wr" x="354.3"/><use id="k31-8" href="#Wr" x="400.9"/><use id="k31-9" href="#Yr" x="447.4"/></g>
<g id="row32" transform="translate(0,1673.7)"><path class="g" d="M23.3,0H60M463,0H499"/><text class="L" x="18.5" y="4.5">32</text><text class="R" x="503.5" y="4.5">32</text><use id="k32-1" href="#Yl" x="75"/><use id="k32-2" href="#Wl" x="121.5"/><use id="k32-3" href="#Wl" x="168.1"/><use id="k32-4" href="#Wl" x="214.6"/><use id="k32-5" href="#Wl" x="261.2"/><use id="k32-6" href="#Wl" x="307.8"/><use id="k32-7" href="#Wl" x="354.3"/><use id="k32-8" href="#Wl" x="400.9"/><use id="k32-9" href="#Yl" x="447.4"/></g>
<g id="row33" transform="translate(0,1725.7)"><path class="g" d="M23.3,0H60M463,0H499"/><text class="L" x="18.5" y="4.5">33</text><text class="R" x="503.5" y="4.5">33</text><use id="k33-1" href="#Yr" x="75"/><use id="k33-2" href="#Yr" x="121.5"/><use id="k33-3" href="#Yr" x="168.1"/><use id="k33-4" href="#Yr" x="214.6"/><use id="k33-5" href="#Yr" x="261.2"/><use id="k33-6" href="#Yr" x="307.8"/><use id="k33-7" href="#Yr" x="354.3"/><use id="k33-8" href="#Yr" x="400.9"/><use id="k33-9" href="#Yr" x="447.4"/></g>
<g id="row34" transform="translate(0,1777.7)"><path class="g" d="M23.3,0H60M463,0H499"/><text class="L" x="18.5" y="4.5">34</text><text class="R" x="503.5" y="4.5">34</text><use id="k34-1" href="#Yl" x="75"/><use id="k34-2" href="#Kl" x="121.5"/><use id="k34-3" href="#Kl" x="168.1"/><use id="k34-4" href="#Kl" x="214.6"/><use id="k34-5" href="#Kl" x="261.2"/><use id="k34-6" href="#Kl" x="307.8"/><use id="k34-7" href="#Kl" x="354.3"/><use id="k34-8" href="#Kl" x="400.9"/><use id="k34-9" href="#Yl" x="447.4"/></g>
<g id="row35" transform="translate(0,1829.7)"><path class="g" d="M23.3,0H60M463,0H499"/><text class="L" x="18.5" y="4.5">35</text><text class="R" x="503.5" y="4.5">35</text><use id="k35-1" href="#Yr" x="75"/><use id="k35-2" href="#Kr" x="121.5"/><use id="k35-3" href="#Wr" x="168.1"/><use id="k35-4" href="#Wr" x="214.6"/><use id="k35-5" href="#Wr" x="261.2"/><use id="k35-6" href="#Wr" x="307.8"/><use id="k35-7" href="#Wr" x="354.3"/><use id="k35-8" href="#Kr" x="400.9"/><use id="k35-9" href="#Yr" x="447.4"/></g>
<g id="row36" transform="translate(0,1881.7)"><path class="g" d="M23.3,0H60M463,0H499"/><text class="L" x="18.5" y="4.5">36</text><text class="R" x="503.5" y="4.5">36</text><use id="k36-1" href="#Yl" x="75"/><use id="k36-2" href="#Kl" x="121.5"/><use id="k36-3" href="#Wl" x="168.1"/><use id="k36-4" href="#Kl" x="214.6"/><use id="k36-5" href="#Wl" x="261.2"/><use id="k36-6" href="#Wl" x="307.8"/><use id="k36-7" href="#Wl" x="354.3"/><use id="k36-8" href="#Kl" x="400.9"/><use id="k36-9" href="#Yl" x="447.4"/></g>
<g id="row37" transform="translate(0,1933.7)"><path class="g" d="M23.3,0H60M463,0H499"/><text class="L" x="18.5" y="4.5">37</text><text class="R" x="503.5" y="4.5">37</text><use id="k37-1" href="#Yr" x="75"/><use id="k37-2" href="#Kr" x="121.5"/><use id="k37-3" href="#Wr" x="168.1"/><use id="k37-4" href="#Wr" x="214.6"/><use id="k37-5" href="#Kr" x="261.2"/><use id="k37-6" href="#Wr" x="307.8"/><use id="k37-7" href="#Wr" x="354.3"/><use id="k37-8" href="#Kr" x="400.9"/><use id="k37-9" href="#Yr" x="447.4"/></g>
<g id="row38" transform="translate(0,1985.7)"><path class="g" d="M23.3,0H60M463,0H499"/><text class="L" x="18.5" y="4.5">38</text><text class="R" x="503.5" y="4.5">38</text><use id="k38-1" href="#Yl" x="75"/><use id="k38-2" href="#Kl" x="121.5"/><use id="k38-3" href="#Wl" x="168.1"/><use id="k38-4" href="#Wl" x="214.6"/><use id="k38-5" href="#Wl" x="261.2"/><use id="k38-6" href="#Kl" x="307.8"/><use id="k38-7" href="#Wl" x="354.3"/><use id="k38-8" href="#Kl" x="400.9"/><use id="k38-9" href="#Yl" x="447.4"/></g>
<g id="row39" transform="translate(0,2037.7)"><path class="g" d="M23.3,0H60M463,0H499"/><text class="L" x="18.5" y="4.5">39</text><text class="R" x="503.5" y="4.5">39</text><use id="k39-1" href="#Yr" x="75"/><use id="k39-2" href="#Kr" x="121.5"/><use id="k39-3" href="#Wr" x="168.1"/><use id="k39-4" href="#Wr" x="214.6"/><use id="k39-5" href="#Wr" x="261.2"/><use id="k39-6" href="#Wr" x="307.8"/><use id="k39-7" href="#Wr" x="354.3"/><use id="k39-8" href="#Kr" x="400.9"/><use id="k39-9" href="#Yr" x="447.4"/></g>
<g id="row40" transform="translate(0,2089.7)"><path class="g" d="M23.3,0H60M463,0H499"/><text class="L" x="18.5" y="4.5">40</text><text class="R" x="503.5" y="4.5">40</text><use id="k40-1" href="#Yl" x="75"/><use id="k40-2" href="#Kl" x="121.5"/><use id="k40-3" href="#Kl" x="168.1"/><use id="k40-4" href="#Kl" x="214.6"/><use id="k40-5" href="#Kl" x="261.2"/><use id="k40-6" href="#Kl" x="307.8"/><use id="k40-7" href="#Kl" x="354.3"/><use id="k40-8" href="#Kl" x="400.9"/><use id="k40-9" href="#Yl" x="447.4"/></g>
<g id="row41" transform="translate(0,2141.7)"><path class="g" d="M23.3,0H60M463,0H499"/><text class="L" x="18.5" y="4.5">41</text><text class="R" x="503.5" y="4.5">41</text><use id="k41-1" href="#Yr" x="75"/><use id="k41-2" href="#Yr" x="121.5"/><use id="k41-3" href="#Yr" x="168.1"/><use id="k41-4" href="#Yr" x="214.6"/><use id="k41-5" href="#Yr" x="261.2"/><use id="k41-6" href="#Yr" x="307.8"/><use id="k41-7" href="#Yr" x="354.3"/><use id="k41-8" href="#Yr" x="400.9"/><use id="k41-9" href="#Yr" x="447.4"/></g>
<g id="row42" transform="translate(0,2193.7)"><path class="g" d="M23.3,0H60M463,0H499"/><text class="L" x="18.5" y="4.5">42</text><text class="R" x="503.5" y="4.5">42</text><use id="k42-1" href="#Yl" x="75"/><use id="k42-2" href="#Wl" x="121.5"/><use id="k42-3" href="#Wl" x="168.1"/><use id="k42-4" href="#Wl" x="214.6"/><use id="k42-5" href="#Wl" x="261.2"/><use id="k42-6" href="#Wl" x="307.8"/><use id="k42-7" href="#Wl" x="354.3"/><use id="k42-8" href="#Wl" x="400.9"/><use id="k42-9" href="#Yl" x="447.4"/></g>
<g id="row43" transform="translate(0,2245.7)"><path class="g" d="M23.3,0H60M463,0H499"/><text class="L" x="18.5" y="4.5">43</text><text class="R" x="503.5" y="4.5">43</text><use id="k43-1" href="#Yr" x="75"/><use id="k43-2" href="#Wr" x="121.5"/><use id="k43-3" href="#Wr" x="168.1"/><use id="k43-4" href="#Wr" x="214.6"/><use id="k43-5" href="#Rr" x="261.2"/><use id="k43-6" href="#Rr" x="307.8"/><use id="k43-7" href="#Rr" x="354.3"/><use id="k43-8" href="#Wr" x="400.9"/><use id="k43-9" href="#Yr" x="447.4"/></g>
<g id="row44" transform="translate(0,2297.7)"><path class="g" d="M23.3,0H60M463,0H499"/><text class="L" x="18.5" y="4.5">44</text><text class="R" x="503.5" y="4.5">44</text><use id="k44-1" href="#Yl" x="75"/><use id="k44-2" href="#Wl" x="121.5"/><use id="k44-3" href="#Wl" x="168.1"/><use id="k44-4" href="#Rl" x="214.6"/><use id="k44-5" href="#Rl" x="261.2"/><use id="k44-6" href="#Rl" x="307.8"/><use id="k44-7" href="#Rl" x="354.3"/><use id="k44-8" href="#Wl" x="400.9"/><use id="k44-9" href="#Yl" x="447.4"/></g>
<g id="row45" transform="translate(0,2349.7)"><path class="g" d="M23.3,0H60M463,0H499"/><text class="L" x="18.5" y="4.5">45</text><text class="R" x="503.5" y="4.5">45</text><use id="k45-1" href="#Yr" x="75"/><use id="k45-2" href="#Wr" x="121.5"/><use id="k45-3" href="#Rr" x="168.1"/><use id="k45-4" href="#Rr" x="214.6"/><use id="k45-5" href="#Rr" x="261.2"/><use id="k45-6" href="#Rr" x="307.8"/><use id="k45-7" href="#Wr" x="354.3"/><use id="k45-8" href="#Wr" x="400.9"/><use id="k45-9" href="#Yr" x="447.4"/></g>
<g id="row46" transform="translate(0,2401.7)"><path class="g" d="M23.3,0H60M463,0H499"/><text class="L" x="18.5" y="4.5">46</text><text class="R" x="503.5" y="4.5">46</text><use id="k46-1" href="#Yl" x="75"/><use id="k46-2" href="#Wl" x="121.5"/><use id="k46-3" href="#Wl" x="168.1"/><use id="k46-4" href="#Rl" x="214.6"/><use id="k46-5" href="#Rl" x="261.2"/><use id="k46-6" href="#Rl" x="307.8"/><use id="k46-7" href="#Rl" x="354.3"/><use id="k46-8" href="#Wl" x="400.9"/><use id="k46-9" href="#Yl" x="447.4"/></g>
<g id="row47" transform="translate(0,2453.7)"><path class="g" d="M23.3,0H60"/><text class="L" x="18.5" y="4.5">47</text><text class="R" x="503.5" y="4.5">47</text><use id="k47-1" href="#Yr" x="75"/><use id="k47-2" href="#Wr" x="121.5"/><use id="k47-3" href="#Wr" x="168.1"/><use id="k47-4" href="#Wr" x="214.6"/><use id="k47-5" href="#Rr" x="261.2"/><use id="k47-6" href="#Rr" x="307.8"/><use id="k47-7" href="#Rr" x="354.3"/><use id="k47-8" href="#Wr" x="400.9"/><use id="k47-9" href="#Yr" x="447.4"/></g>
<g id="row48" transform="translate(0,2505.7)"><path class="g" d="M23.3,0H60M463,0H499"/><text class="L" x="18.5" y="4.5">48</text><text class="R" x="503.5" y="4.5">48</text><use id="k48-1" href="#Yl" x="75"/><use id="k48-2" href="#Wl" x="121.5"/><use id="k48-3" href="#Wl" x="168.1"/><use id="k48-4" href="#Wl" x="214.6"/><use id="k48-5" href="#Wl" x="261.2"/><use id="k48-6" href="#Wl" x="307.8"/><use id="k48-7" href="#Wl" x="354.3"/><use id="k48-8" href="#Wl" x="400.9"/><use id="k48-9" href="#Yl" x="447.4"/></g>
<g id="row49" transform="translate(0,2557.7)"><path class="g" d="M23.3,0H60M463,0H499"/><text class="L" x="18.5" y="4.5">49</text><text class="R" x="503.5" y="4.5">49</text><use id="k49-1" href="#Yr" x="75"/><use id="k49-2" href="#Yr" x="121.5"/><use id="k49-3" href="#Yr" x="168.1"/><use id="k49-4" href="#Yr" x="214.6"/><use id="k49-5" href="#Yr" x="261.2"/><use id="k49-6" href="#Yr" x="307.8"/><use id="k49-7" href="#Yr" x="354.3"/><use id="k49-8" href="#Yr" x="400.9"/><use id="k49-9" href="#Yr" x="447.4"/></g>
<g id="row50" transform="translate(0,2609.7)"><path class="g" d="M23.3,0H60M463,0H499"/><text class="L" x="18.5" y="4.5">50</text><text class="R" x="503.5" y="4.5">50</text><use id="k50-1" href="#Yl" x="75"/><use id="k50-2" href="#Kl" x="121.5"/><use id="k50-3" href="#Kl" x="168.1"/><use id="k50-4" href="#Kl" x="214.6"/><use id="k50-5" href="#Kl" x="261.2"/><use id="k50-6" href="#Kl" x="307.8"/><use id="k50-7" href="#Kl" x="354.3"/><use id="k50-8" href="#Kl" x="400.9"/><use id="k50-9" href="#Yl" x="447.4"/></g>
<g id="row51" transform="translate(0,2661.7)"><path class="g" d="M23.3,0H60M463,0H499"/><text class="L" x="18.5" y="4.5">51</text><text class="R" x="503.5" y="4.5">51</text><use id="k51-1" href="#Yr" x="75"/><use id="k51-2" href="#Kr" x="121.5"/><use id="k51-3" href="#Wr" x="168.1"/><use id="k51-4" href="#Wr" x="214.6"/><use id="k51-5" href="#Wr" x="261.2"/><use id="k51-6" href="#Wr" x="307.8"/><use id="k51-7" href="#Wr" x="354.3"/><use id="k51-8" href="#Kr" x="400.9"/><use id="k51-9" href="#Yr" x="447.4"/></g>
<g id="row52" transform="translate(0,2713.7)"><path class="g" d="M23.3,0H60M463,0H499"/><text class="L" x="18.5" y="4.5">52</text><text class="R" x="503.5" y="4.5">52</text><use id="k52-1" href="#Yl" x="75"/><use id="k52-2" href="#Kl" x="121.5"/><use id="k52-3" href="#Wl" x="168.1"/><use id="k52-4" href="#Kl" x="214.6"/><use id="k52-5" href="#Wl" x="261.2"/><use id="k52-6" href="#Wl" x="307.8"/><use id="k52-7" href="#Wl" x="354.3"/><use id="k52-8" href="#Kl" x="400.9"/><use id="k52-9" href="#Yl" x="447.4"/></g>
<g id="row53" transform="translate(0,2765.7)"><path class="g" d="M23.3,0H60M463,0H499"/><text class="L" x="18.5" y="4.5">53</text><text class="R" x="503.5" y="4.5">53</text><use id="k53-1" href="#Yr" x="75"/><use id="k53-2" href="#Kr" x="121.5"/><use id="k53-3" href="#Wr" x="168.1"/><use id="k53-4" href="#Wr" x="214.6"/><use id="k53-5" href="#Wr" x="261.2"/><use id="k53-6" href="#Wr" x="307.8"/><use id="k53-7" href="#Wr" x="354.3"/><use id="k53-8" href="#Kr" x="400.9"/><use id="k53-9" href="#Yr" x="447.4"/></g>
<g id="row54" transform="translate(0,2817.7)"><path class="g" d="M23.3,0H60M463,0H499"/><text class="L" x="18.5" y="4.5">54</text><text class="R" x="503.5" y="4.5">54</text><use id="k54-1" href="#Yl" x="75"/><use id="k54-2" href="#Kl" x="121.5"/><use id="k54-3" href="#Wl" x="168.1"/><use id="k54-4" href="#Wl" x="214.6"/><use id="k54-5" href="#Wl" x="261.2"/><use id="k54-6" href="#Kl" x="307.8"/><use id="k54-7" href="#Wl" x="354.3"/><use id="k54-8" href="#Kl" x="400.9"/><use id="k54-9" href="#Yl" x="447.4"/></g>
<g id="row55" transform="translate(0,2869.7)"><path class="g" d="M23.3,0H60M463,0H499"/><text class="L" x="18.5" y="4.5">55</text><text class="R" x="503.5" y="4.5">55</text><use id="k55-1" href="#Yr" x="75"/><use id="k55-2" href="#Kr" x="121.5"/><use id="k55-3" href="#Wr" x="168.1"/><use id="k55-4" href="#Wr" x="214.6"/><use id="k55-5" href="#Wr" x="261.2"/><use id="k55-6" href="#Wr" x="307.8"/><use id="k55-7" href="#Wr" x="354.3"/><use id="k55-8" href="#Kr" x="400.9"/><use id="k55-9" href="#Yr" x="447.4"/></g>
<g id="row56" transform="translate(0,2921.7)"><path class="g" d="M23.3,0H60M463,0H499"/><text class="L" x="18.5" y="4.5">56</text><text class="R" x="503.5" y="4.5">56</text><use id="k56-1" href="#Yl" x="75"/><use id="k56-2" href="#Kl" x="121.5"/><use id="k56-3" href="#Kl" x="168.1"/><use id="k56-4" href="#Kl" x="214.6"/><use id="k56-5" href="#Kl" x="261.2"/><use id="k56-6" href="#Kl" x="307.8"/><use id="k56-7" href="#Kl" x="354.3"/><use id="k56-8" href="#Kl" x="400.9"/><use id="k56-9" href="#Yl" x="447.4"/></g>
<g id="row57" transform="translate(0,2973.7)"><path class="g" d="M23.3,0H60M463,0H499"/><text class="L" x="18.5" y="4.5">57</text><text class="R" x="503.5" y="4.5">57</text><use id="k57-1" href="#Yr" x="75"/><use id="k57-2" href="#Yr" x="121.5"/><use id="k57-3" href="#Yr" x="168.1"/><use id="k57-4" href="#Yr" x="214.6"/><use id="k57-5" href="#Yr" x="261.2"/><use id="k57-6" href="#Yr" x="307.8"/><use id="k57-7" href="#Yr" x="354.3"/><use id="k57-8" href="#Yr" x="400.9"/><use id="k57-9" href="#Yr" x="447.4"/></g>
<g id="row58" transform="translate(0,3025.7)"><path class="g" d="M23.3,0H60M463,0H499"/><text class="L" x="18.5" y="4.5">58</text><text class="R" x="503.5" y="4.5">58</text><use id="k58-1" href="#Yl" x="75"/><use id="k58-2" href="#Wl" x="121.5"/><use id="k58-3" href="#Wl" x="168.1"/><use id="k58-4" href="#Wl" x="214.6"/><use id="k58-5" href="#Wl" x="261.2"/><use id="k58-6" href="#Wl" x="307.8"/><use id="k58-7" href="#Wl" x="354.3"/><use id="k58-8" href="#Wl" x="400.9"/><use id="k58-9" href="#Yl" x="447.4"/></g>
<g id="row59" transform="translate(0,3077.7)"><path class="g" d="M23.3,0H60M463,0H499"/><text class="L" x="18.5" y="4.5">59</text><text class="R" x="503.5" y="4.5">59</text><use id="k59-1" href="#Yr" x="75"/><use id="k59-2" href="#Wr" x="121.5"/><use id="k59-3" href="#Wr" x="168.1"/><use id="k59-4" href="#Kr" x="214.6"/><use id="k59-5" href="#Kr" x="261.2"/><use id="k59-6" href="#Wr" x="307.8"/><use id="k59-7" href="#Wr" x="354.3"/><use id="k59-8" href="#Wr" x="400.9"/><use id="k59-9" href="#Yr" x="447.4"/></g>
<g id="row60" transform="translate(0,3129.7)"><path class="g" d="M23.3,0H60M463,0H499"/><text class="L" x="18.5" y="4.5">60</text><text class="R" x="503.5" y="4.5">60</text><use id="k60-1" href="#Yl" x="75"/><use id="k60-2" href="#Wl" x="121.5"/><use id="k60-3" href="#Wl" x="168.1"/><use id="k60-4" href="#Kl" x="214.6"/><use id="k60-5" href="#Kl" x="261.2"/><use id="k60-6" href="#Kl" x="307.8"/><use id="k60-7" href="#Kl" x="354.3"/><use id="k60-8" href="#Wl" x="400.9"/><use id="k60-9" href="#Yl" x="447.4"/></g>
<g id="row61" transform="translate(0,3181.7)"><path class="g" d="M23.3,0H60M463,0H499"/><text class="L" x="18.5" y="4.5">61</text><text class="R" x="503.5" y="4.5">61</text><use id="k61-1" href="#Yr" x="75"/><use id="k61-2" href="#Wr" x="121.5"/><use id="k61-3" href="#Kr" x="168.1"/><use id="k61-4" href="#Kr" x="214.6"/><use id="k61-5" href="#Kr" x="261.2"/><use id="k61-6" href="#Kr" x="307.8"/><use id="k61-7" href="#Kr" x="354.3"/><use id="k61-8" href="#Wr" x="400.9"/><use id="k61-9" href="#Yr" x="447.4"/></g>
<g id="row62" transform="translate(0,3233.7)"><path class="g" d="M23.3,0H60M463,0H499"/><text class="L" x="18.5" y="4.5">62</text><text class="R" x="503.5" y="4.5">62</text><use id="k62-1" href="#Yl" x="75"/><use id="k62-2" href="#Wl" x="121.5"/><use id="k62-3" href="#Wl" x="168.1"/><use id="k62-4" href="#Kl" x="214.6"/><use id="k62-5" href="#Kl" x="261.2"/><use id="k62-6" href="#Kl" x="307.8"/><use id="k62-7" href="#Kl" x="354.3"/><use id="k62-8" href="#Wl" x="400.9"/><use id="k62-9" href="#Yl" x="447.4"/></g>
<g id="row63" transform="translate(0,3285.7)"><path class="g" d="M23.3,0H60M463,0H499"/><text class="L" x="18.5" y="4.5">63</text><text class="R" x="503.5" y="4.5">63</text><use id="k63-1" href="#Yr" x="75"/><use id="k63-2" href="#Wr" x="121.5"/><use id="k63-3" href="#Wr" x="168.1"/><use id="k63-4" href="#Kr" x="214.6"/><use id="k63-5" href="#Kr" x="261.2"/><use id="k63-6" href="#Wr" x="307.8"/><use id="k63-7" href="#Wr" x="354.3"/><use id="k63-8" href="#Wr" x="400.9"/><use id="k63-9" href="#Yr" x="447.4"/></g>
<g id="row64" transform="translate(0,3337.7)"><path class="g" d="M23.3,0H60M463,0H499"/><text class="L" x="18.5" y="4.5">64</text><text class="R" x="503.5" y="4.5">64</text><use id="k64-1" href="#Yl" x="75"/><use id="k64-2" href="#Wl" x="121.5"/><use id="k64-3" href="#Wl" x="168.1"/><use id="k64-4" href="#Wl" x="214.6"/><use id="k64-5" href="#Wl" x="261.2"/><use id="k64-6" href="#Wl" x="307.8"/><use id="k64-7" href="#Wl" x="354.3"/><use id="k64-8" href="#Wl" x="400.9"/><use id="k64-9" href="#Yl" x="447.4"/></g>
<g id="row65" transform="translate(0,3389.7)"><path class="g" d="M23.3,0H60M463,0H499"/><text class="L" x="18.5" y="4.5">65</text><text class="R" x="503.5" y="4.5">65</text><use id="k65-1" href="#Yr" x="75"/><use id="k65-2" href="#Yr" x="121.5"/><use id="k65-3" href="#Yr" x="168.1"/><use id="k65-4" href="#Yr" x="214.6"/><use id="k65-5" href="#Yr" x="261.2"/><use id="k65-6" href="#Yr" x="307.8"/><use id="k65-7" href="#Yr" x="354.3"/><use id="k65-8" href="#Yr" x="400.9"/><use id="k65-9" href="#Yr" x="447.4"/></g>
<g id="row66" transform="translate(0,3441.7)"><path class="g" d="M23.3,0H60M463,0H499"/><text class="L" x="18.5" y="4.5">66</text><text class="R" x="503.5" y="4.5">66</text><use id="k66-1" href="#Yl" x="75"/><use id="k66-2" href="#Kl" x="121.5"/><use id="k66-3" href="#Kl" x="168.1"/><use id="k66-4" href="#Kl" x="214.6"/><use id="k66-5" href="#Kl" x="261.2"/><use id="k66-6" href="#Kl" x="307.8"/><use id="k66-7" href="#Kl" x="354.3"/><use id="k66-8" href="#Kl" x="400.9"/><use id="k66-9" href="#Yl" x="447.4"/></g>
<g id="row67" transform="translate(0,3493.7)"><path class="g" d="M23.3,0H60M463,0H499"/><text class="L" x="18.5" y="4.5">67</text><text class="R" x="503.5" y="4.5">67</text><use id="k67-1" href="#Yr" x="75"/><use id="k67-2" href="#Kr" x="121.5"/><use id="k67-3" href="#Wr" x="168.1"/><use id="k67-4" href="#Wr" x="214.6"/><use id="k67-5" href="#Wr" x="261.2"/><use id="k67-6" href="#Wr" x="307.8"/><use id="k67-7" href="#Wr" x="354.3"/><use id="k67-8" href="#Kr" x="400.9"/><use id="k67-9" href="#Yr" x="447.4"/></g>
<g id="row68" transform="translate(0,3545.7)"><path class="g" d="M23.3,0H60M463,0H499"/><text class="L" x="18.5" y="4.5">68</text><text class="R" x="503.5" y="4.5">68</text><use id="k68-1" href="#Yl" x="75"/><use id="k68-2" href="#Kl" x="121.5"/><use id="k68-3" href="#Wl" x="168.1"/><use id="k68-4" href="#Wl" x="214.6"/><use id="k68-5" href="#Wl" x="261.2"/><use id="k68-6" href="#Wl" x="307.8"/><use id="k68-7" href="#Wl" x="354.3"/><use id="k68-8" href="#Kl" x="400.9"/><use id="k68-9" href="#Yl" x="447.4"/></g>
<g id="row69" transform="translate(0,3597.7)"><path class="g" d="M23.3,0H60M463,0H499"/><text class="L" x="18.5" y="4.5">69</text><text class="R" x="503.5" y="4.5">69</text><use id="k69-1" href="#Yr" x="75"/><use id="k69-2" href="#Kr" x="121.5"/><use id="k69-3" href="#Wr" x="168.1"/><use id="k69-4" href="#Wr" x="214.6"/><use id="k69-5" href="#Kr" x="261.2"/><use id="k69-6" href="#Wr" x="307.8"/><use id="k69-7" href="#Wr" x="354.3"/><use id="k69-8" href="#Kr" x="400.9"/><use id="k69-9" href="#Yr" x="447.4"/></g>
<g id="row70" transform="translate(0,3649.7)"><path class="g" d="M23.3,0H60M463,0H499"/><text class="L" x="18.5" y="4.5">70</text><text class="R" x="503.5" y="4.5">70</text><use id="k70-1" href="#Yl" x="75"/><use id="k70-2" href="#Kl" x="121.5"/><use id="k70-3" href="#Wl" x="168.1"/><use id="k70-4" href="#Wl" x="214.6"/><use id="k70-5" href="#Wl" x="261.2"/><use id="k70-6" href="#Wl" x="307.8"/><use id="k70-7" href="#Wl" x="354.3"/><use id="k70-8" href="#Kl" x="400.9"/><use id="k70-9" href="#Yl" x="447.4"/></g>
<g id="row71" transform="translate(0,3701.7)"><path class="g" d="M23.3,0H60"/><text class="L" x="18.5" y="4.5">71</text><text class="R" x="503.5" y="4.5">71</text><use id="k71-1" href="#Yr" x="75"/><use id="k71-2" href="#Kr" x="121.5"/><use id="k71-3" href="#Wr" x="168.1"/><use id="k71-4" href="#Wr" x="214.6"/><use id="k71-5" href="#Wr" x="261.2"/><use id="k71-6" href="#Wr" x="307.8"/><use id="k71-7" href="#Wr" x="354.3"/><use id="k71-8" href="#Kr" x="400.9"/><use id="k71-9" href="#Yr" x="447.4"/></g>
<g id="row72" transform="translate(0,3753.7)"><path class="g" d="M463,0H499"/><text class="L" x="18.5" y="4.5">72</text><text class="R" x="503.5" y="4.5">72</text><use id="k72-1" href="#Yl" x="75"/><use id="k72-2" href="#Kl" x="121.5"/><use id="k72-3" href="#Kl" x="168.1"/><use id="k72-4" href="#Kl" x="214.6"/><use id="k72-5" href="#Kl" x="261.2"/><use id="k72-6" href="#Kl" x="307.8"/><use id="k72-7" href="#Kl" x="354.3"/><use id="k72-8" href="#Kl" x="400.9"/><use id="k72-9" href="#Yl" x="447.4"/></g>
<g id="row73" transform="translate(0,3805.7)"><path class="g" d="M23.3,0H60"/><text class="L" x="18.5" y="4.5">73</text><text class="R" x="503.5" y="4.5">73</text><use id="k73-1" href="#Yr" x="75"/><use id="k73-2" href="#Yr" x="121.5"/><use id="k73-3" href="#Yr" x="168.1"/><use id="k73-4" href="#Yr" x="214.6"/><use id="k73-5" href="#Yr" x="261.2"/><use id="k73-6" href="#Yr" x="307.8"/><use id="k73-7" href="#Yr" x="354.3"/><use id="k73-8" href="#Yr" x="400.9"/><use id="k73-9" href="#Yr" x="447.4"/></g>
</g>
<text id="watermark" x="261.3" y="1964" text-anchor="middle" font-size="14" font-weight="bold" fill="#3a3a3a" stroke="#fff" stroke-width="1.5" paint-order="stroke" textLength="137" lengthAdjust="spacingAndGlyphs">BRACELETBOOK.COM</text>
</svg>
